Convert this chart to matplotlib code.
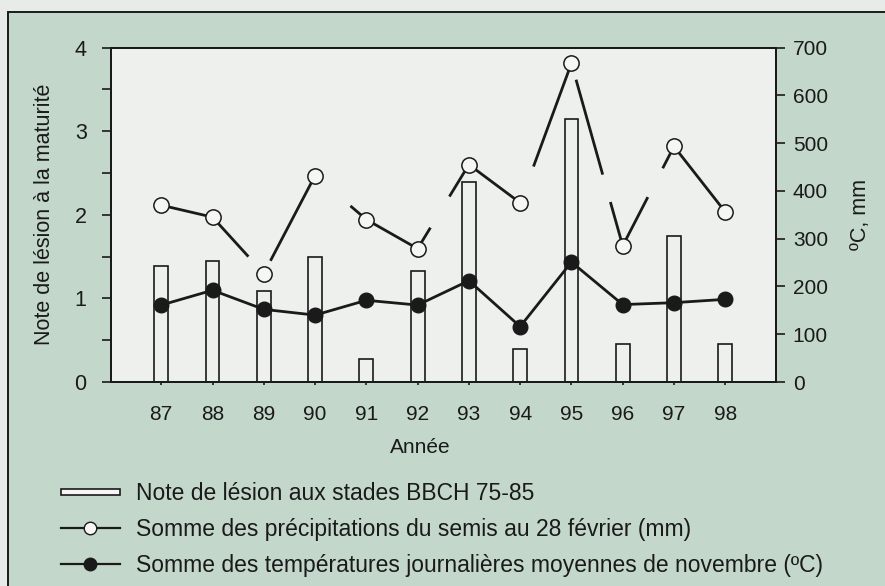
import numpy as np
import matplotlib
matplotlib.use("Agg")
import matplotlib.pyplot as plt
from matplotlib.patches import Rectangle
from matplotlib.lines import Line2D
from matplotlib.legend_handler import HandlerPatch

plt.rcParams["font.family"] = ["Liberation Sans", "DejaVu Sans"]

# ----------------------------
# Data
# ----------------------------

years = ["87", "88", "89", "90", "91", "92", "93", "94", "95", "96", "97", "98"]

lesion = [1.39, 1.45, 1.09, 1.49, 0.28, 1.33, 2.39, 0.40, 3.15, 0.45, 1.74, 0.45]

precip = [370, 345, 227, 432, 340, 279, 455, 375, 667, 285, 493, 356]

temp = [161, 192, 152, 140, 171, 161, 212, 116, 251, 162, 166, 173]

# visible parts of each precipitation segment (the original print has gaps)
precip_visible = [
    [(0, 1)],
    [(0, 0.70)],
    [(0.13, 1)],
    [(0.69, 1)],
    [(0, 1)],
    [(0, 0.25), (0.62, 1)],
    [(0, 1)],
    [(0.26, 1)],
    [(0.09, 0.61), (0.76, 1)],
    [(0, 0.49), (0.78, 1)],
    [(0, 1)],
]

legend_labels = [
    "Note de lésion aux stades BBCH 75-85",
    "Somme des précipitations du semis au 28 février (mm)",
    "Somme des températures journalières moyennes de novembre (ºC)",
]

# ----------------------------
# Plot
# ----------------------------

frame_green = "#c4d7cb"
plot_bg = "#eef0ee"
ink = "#1a1a1a"

fig = plt.figure(figsize=(8.85, 5.86), dpi=100)
fig.patch.set_facecolor("#e8ece9")

# outer framed panel
fig.patches.append(Rectangle((8 / 885, -0.05), 1.2, 1 - 12 / 586 + 0.05,
                             transform=fig.transFigure, facecolor=frame_green,
                             edgecolor=ink, linewidth=1.4, zorder=-10))

ax = fig.add_axes([111 / 885, 1 - 382 / 586, (775.5 - 111) / 885, (382 - 47.5) / 586])
ax.set_facecolor(plot_bg)
x = np.arange(len(years))

ax.bar(x, lesion, width=0.27, facecolor=plot_bg, edgecolor=ink, linewidth=1.2, zorder=2)

ax.set_xlim(-0.98, len(years) - 0.02)
ax.set_ylim(0, 4)
ax.set_yticks([0, 1, 2, 3, 4])
ax.set_yticks([0.5, 1.5, 2.5, 3.5], minor=True)
ax.set_xticks(x)
ax.set_xticklabels(years)
ax.tick_params(axis="y", which="both", direction="out", length=6.5, width=1.2,
               labelsize=15.5, pad=11, colors=ink)
ax.tick_params(axis="x", direction="out", length=2.5, width=1.2, labelsize=15,
               pad=14, colors=ink)
for s in ax.spines.values():
    s.set_linewidth(1.4)
    s.set_color(ink)

ax.set_ylabel("Note de lésion à la maturité", fontsize=15.5, color=ink, labelpad=14)
ax.set_xlabel("Année", fontsize=15, color=ink, labelpad=10, x=0.466)

ax2 = ax.twinx()
ax2.set_ylim(0, 700)
ax2.set_yticks(range(0, 701, 100))
ax2.tick_params(axis="y", direction="out", length=6.5, width=1.2, labelsize=15,
                pad=6, colors=ink)
ax2.set_ylabel("ºC, mm", fontsize=15.5, color=ink, labelpad=16)
for s in ax2.spines.values():
    s.set_linewidth(1.4)
    s.set_color(ink)

# precipitation line with its gaps
for i, parts in enumerate(precip_visible):
    for a, b in parts:
        xs = [x[i] + a, x[i] + b]
        ys = [precip[i] + a * (precip[i + 1] - precip[i]),
              precip[i] + b * (precip[i + 1] - precip[i])]
        ax2.plot(xs, ys, color=ink, linewidth=2.0, solid_capstyle="butt", zorder=3)

ax2.plot(x, precip, linestyle="none", marker="o", markersize=11,
         markerfacecolor="#f6f7f5", markeredgecolor=ink, markeredgewidth=1.1, zorder=4)

ax2.plot(x, temp, color=ink, linewidth=2.0, marker="o", markersize=10.5,
         markerfacecolor=ink, markeredgecolor=ink, zorder=5)

# ----------------------------
# Legend
# ----------------------------


def thin_bar(legend, orig_handle, xdescent, ydescent, width, height, fontsize):
    return Rectangle((-xdescent, -ydescent + height * 0.3), width, height * 0.4)


handles = [
    Rectangle((0, 0), 1, 1, facecolor="#f6f7f5", edgecolor=ink, linewidth=1.2),
    Line2D([], [], color=ink, linewidth=1.6, marker="o", markersize=9,
           markerfacecolor="#f6f7f5", markeredgecolor=ink, markeredgewidth=1),
    Line2D([], [], color=ink, linewidth=1.6, marker="o", markersize=9,
           markerfacecolor=ink, markeredgecolor=ink),
]

fig.legend(handles, legend_labels, loc="upper left",
           bbox_to_anchor=(40 / 885, 1 - 461.5 / 586), frameon=False,
           fontsize=16.5, handlelength=2.58, handletextpad=0.7, labelspacing=0.56,
           labelcolor=ink, handler_map={Rectangle: HandlerPatch(patch_func=thin_bar)})

plt.savefig("out.png", dpi=100, facecolor=fig.get_facecolor())
